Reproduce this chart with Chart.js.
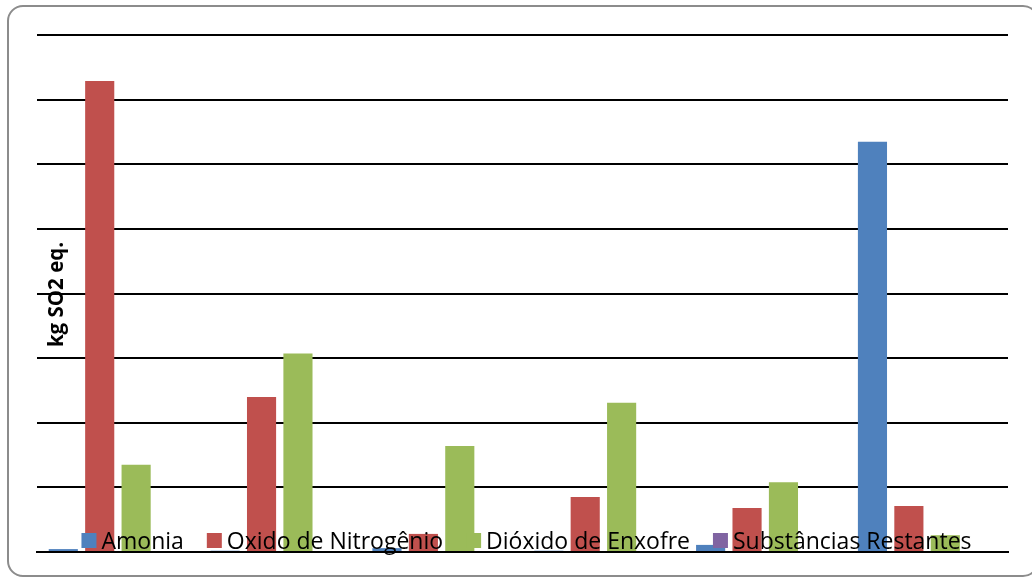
<!DOCTYPE html>
<html>
<head>
<meta charset="utf-8">
<script src="https://cdn.jsdelivr.net/npm/chart.js@4"></script>
<style>
  html, body { margin: 0; padding: 0; background: #fff; }
  #wrap { position: relative; width: 1032px; height: 577px; overflow: hidden; }
  #frame {
    position: absolute; left: 7px; top: 5px; width: 1032px; height: 572px;
    border: 2px solid #8c8c8c; border-radius: 16px; box-sizing: border-box;
  }
  #grafico { position: absolute; left: 0; top: 0; }
</style>
</head>
<body>
<div id="wrap">
  <div id="frame"></div>
  <canvas id="grafico" width="1032" height="577"></canvas>
</div>
<script>
  const categorias = ['1', '2', '3', '4', '5', '6'];

  const amonia = [0.045, 0.02, 0.06, 0.02, 0.11, 6.35];
  const oxidoNitrogenio = [7.29, 2.40, 0.28, 0.85, 0.68, 0.71];
  const dioxidoEnxofre = [1.35, 3.07, 1.64, 2.31, 1.08, 0.26];
  const restantes = [0, 0, 0, 0, 0, 0];

  const tituloEixo = 'kg SO2 eq.';

  // legenda desenhada por cima das barras, junto ao eixo
  const legendaSobreposta = {
    id: 'legendaSobreposta',
    afterDatasetsDraw(chart) {
      const ctx = chart.ctx;
      const area = chart.chartArea;
      ctx.save();
      ctx.font = '23px "Open Sans"';
      ctx.textBaseline = 'alphabetic';
      const itens = chart.data.datasets.map(ds => ({
        cor: ds.backgroundColor,
        texto: ds.label,
        largura: ctx.measureText(ds.label).width
      }));
      const caixa = 15, espaco = 5, entre = 23;
      let total = 0;
      itens.forEach((it, i) => {
        total += caixa + espaco + it.largura + (i < itens.length - 1 ? entre : 0);
      });
      let x = (area.left + area.right) / 2 - total / 2 + 4;
      const base = area.bottom - 3;
      itens.forEach(it => {
        ctx.fillStyle = it.cor;
        ctx.fillRect(x, base - 16, caixa, caixa);
        x += caixa + espaco;
        ctx.fillStyle = '#000';
        ctx.fillText(it.texto, x, base);
        x += it.largura + entre;
      });

      // título do eixo y, dentro da área do gráfico
      ctx.translate(area.left + 20, (area.top + area.bottom) / 2 + 1);
      ctx.rotate(-Math.PI / 2);
      ctx.font = 'bold 20.5px "Open Sans"';
      ctx.textAlign = 'center';
      ctx.textBaseline = 'middle';
      ctx.fillStyle = '#000';
      ctx.fillText(tituloEixo, 0, 0);
      ctx.restore();
    }
  };

  const dados = {
    labels: categorias,
    datasets: [
      { label: 'Amonia', data: amonia, backgroundColor: '#4F81BD' },
      { label: 'Oxido de Nitrogênio', data: oxidoNitrogenio, backgroundColor: '#C0504D' },
      { label: 'Dióxido de Enxofre', data: dioxidoEnxofre, backgroundColor: '#9BBB59' },
      { label: 'Substâncias Restantes', data: restantes, backgroundColor: '#8064A2' }
    ]
  };

  const config = {
    type: 'bar',
    data: dados,
    options: {
      responsive: false,
      animation: false,
      categoryPercentage: 0.9,
      barPercentage: 0.8,
      layout: { padding: { left: 37, right: 24, top: 35, bottom: 25 } },
      plugins: {
        legend: { display: false },
        tooltip: { enabled: false }
      },
      scales: {
        x: {
          grid: { display: false, drawTicks: false },
          border: { display: true, color: '#000', width: 2 },
          ticks: { display: false }
        },
        y: {
          min: 0,
          max: 8,
          grid: { color: '#000', lineWidth: 2, drawTicks: false },
          border: { display: false },
          ticks: { display: false, stepSize: 1 }
        }
      }
    },
    plugins: [legendaSobreposta]
  };

  const grafico = new Chart(document.querySelector('#grafico'), config);
</script>
</body>
</html>
